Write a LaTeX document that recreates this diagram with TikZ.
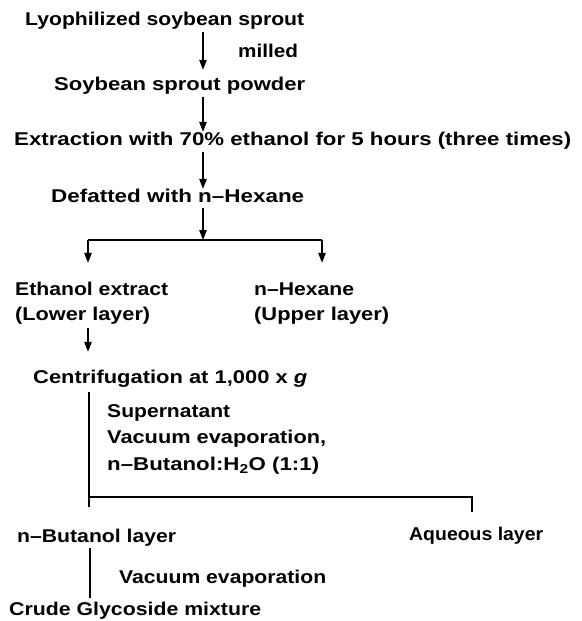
\documentclass[tikz,border=0pt]{standalone}
\usepackage{fontspec}
\usepackage{graphicx}
\setmainfont[FakeStretch=1.12,UprightFont={* Bold},ItalicFont={* Bold Italic}]{Liberation Sans}
\usetikzlibrary{arrows.meta}
\newcommand\fitw[2]{\resizebox{#1pt}{\height}{#2}}
\begin{document}
\begin{tikzpicture}[x=1pt,y=-1pt,
  lbl/.style={anchor=base west,inner sep=0pt,text height=14pt,text depth=4pt,
    font=\fontsize{18.5}{22}\selectfont},
  conn/.style={line width=1.2pt},
  arr/.style={conn,-{Triangle[width=7.5pt,length=10pt]}}]
\useasboundingbox (0,0) rectangle (581,621);
% texts
\node[lbl] (lyo) at (25,25) {\fitw{279}{Lyophilized soybean sprout}};
\node[lbl] (mil) at (238,57) {milled};
\node[lbl] (soy) at (54,90) {\fitw{251}{Soybean sprout powder}};
\node[lbl] (ext) at (14,145) {\fitw{557}{Extraction with 70\% ethanol for 5 hours (three times)}};
\node[lbl] (def) at (51,202) {\fitw{253}{Defatted with n\textendash Hexane}};
\node[lbl] (eth1) at (15,295) {\fitw{153}{Ethanol extract}};
\node[lbl] (eth2) at (15,320) {\fitw{135}{(Lower layer)}};
\node[lbl] (hex1) at (254,295) {\fitw{100}{n\textendash Hexane}};
\node[lbl] (hex2) at (254,320) {\fitw{135}{(Upper layer)}};
\node[lbl] (cen) at (33,383) {\fitw{274}{Centrifugation at 1,000 x \textit{g}}};
\node[lbl] (sup1) at (107,417) {\fitw{123}{Supernatant}};
\node[lbl] (sup2) at (107,443) {\fitw{219}{Vacuum evaporation,}};
\node[lbl] (sup3) at (107,470) {\fitw{212}{n\textendash Butanol:H\textsubscript{2}O (1:1)}};
\node[lbl] (but) at (17,542) {\fitw{159}{n\textendash Butanol layer}};
\node[lbl] (aq) at (409,540) {\fitw{134}{Aqueous layer}};
\node[lbl] (vac) at (119,583) {\fitw{207}{Vacuum evaporation}};
\node[lbl] (cru) at (9,615) {\fitw{252}{Crude Glycoside mixture}};
% axis coordinates
\coordinate (ax) at (203,0);
\coordinate (brM) at (203,240);
\coordinate (brL) at (88,240);
\coordinate (brR) at (322,240);
\coordinate (spL) at (89,497);
\coordinate (spR) at (472,497);
\coordinate (spEnd) at (89,507);
\coordinate (aqTop) at (472,512);
\coordinate (bx) at (90,0);
\coordinate (bEnd) at (90,598);
% connectors
\draw[arr,shorten <=3pt,shorten >=6pt] (lyo.south -| ax) -- (soy.north -| ax);
\draw[arr,shorten <=3pt,shorten >=-1pt] (soy.south -| ax) -- (ext.north -| ax);
\draw[arr,shorten <=3pt,shorten >=-1pt] (ext.south -| ax) -- (def.north -| ax);
\draw[arr,shorten <=2pt] (def.south -| ax) -- (brM);
\draw[conn] (brL) -- (brR);
\draw[arr,shorten >=18pt] (brL) -- (brL |- eth1.north);
\draw[arr,shorten >=18pt] (brR) -- (brR |- hex1.north);
\draw[arr,shorten <=4pt,shorten >=17pt] (eth2.south -| brL) -- (cen.north -| brL);
\draw[conn,shorten <=5pt] (cen.south -| spL) -- (spEnd);
\draw[conn] (spL) -- (spR) -- (aqTop);
\draw[conn,shorten <=2pt] (but.south -| bx) -- (bEnd);
\end{tikzpicture}
\end{document}
